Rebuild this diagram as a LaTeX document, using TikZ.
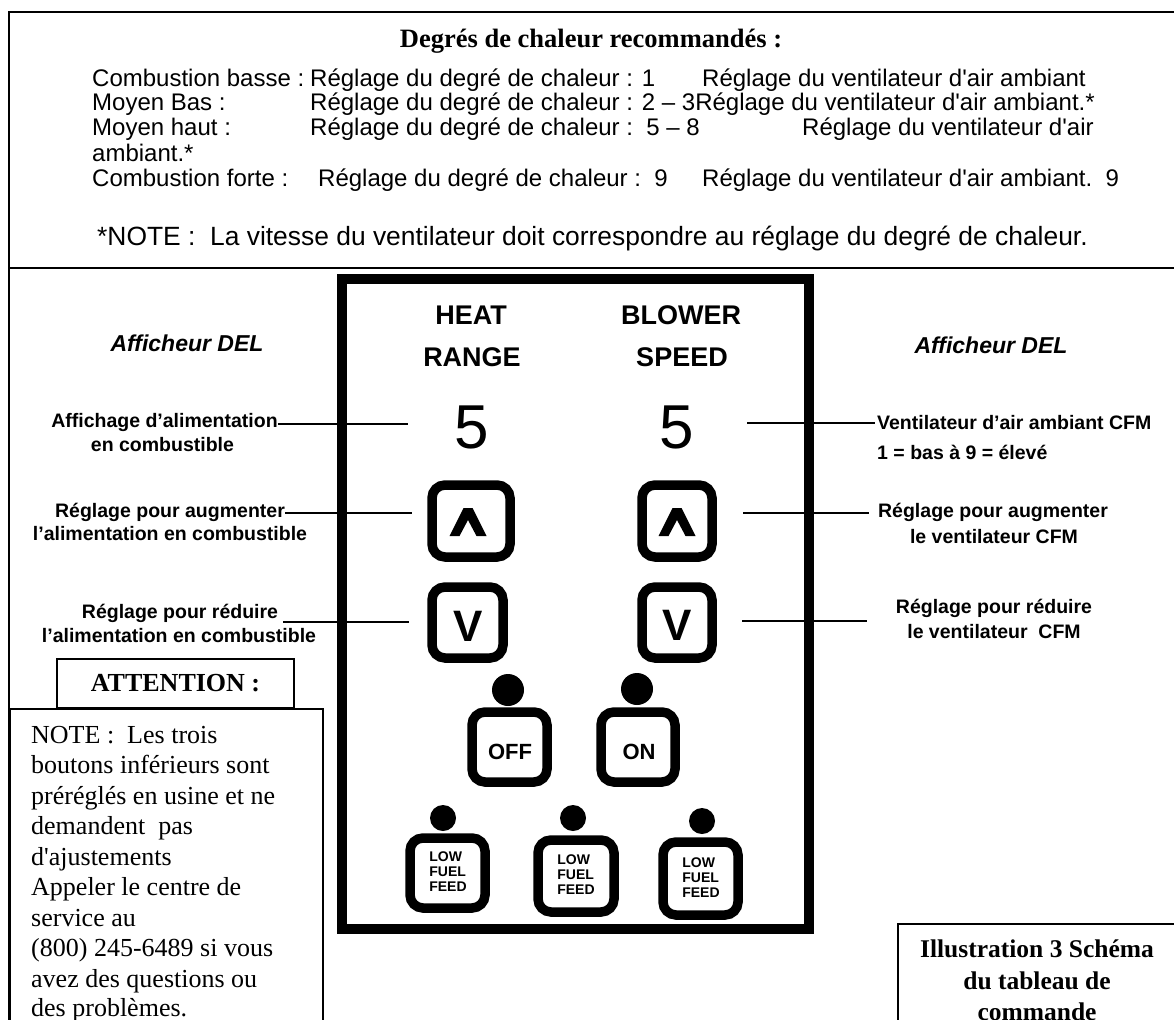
\documentclass[tikz,border=0pt]{standalone}
\usepackage{fontspec}
\usepackage{graphicx}
\setmainfont{Liberation Serif}
\newfontfamily\tms{Liberation Serif}
\newfontfamily\arial{Liberation Sans}
\begin{document}
\begin{tikzpicture}[x=1pt,y=-1pt,
  frameline/.style={line width=2pt},
  toptxt/.style={font=\arial\fontsize{24}{28}\selectfont, anchor=base west, inner sep=0},
  lbl/.style={font=\arial\bfseries\fontsize{19.5}{23}\selectfont, inner sep=0},
  deltxt/.style={font=\arial\bfseries\itshape\fontsize{23}{27}\selectfont, inner sep=0},
  leader/.style={line width=1.8pt},
  paneltxt/.style={font=\arial\bfseries\fontsize{27}{30}\selectfont, inner sep=0},
  digit/.style={font=\arial\fontsize{62}{70}\selectfont, inner sep=0},
  btn/.style={draw, line width=9.5pt, rounded corners=13pt, inner sep=0},
  glyph/.style={font=\arial\bfseries\fontsize{44}{50}\selectfont, inner sep=0},
  chev/.style={fill=black},
  btntxt/.style={font=\arial\bfseries\fontsize{22}{26}\selectfont, inner sep=0},
  lfftxt/.style={font=\arial\bfseries\fontsize{14}{15}\selectfont, align=left, inner sep=0},
  led/.style={circle, fill, inner sep=0},
  notetxt/.style={font=\tms\fontsize{26}{30}\selectfont, anchor=base west, inner sep=0},
  capt/.style={font=\tms\bfseries\fontsize{25.5}{30}\selectfont, anchor=base, inner sep=0},
  boxline/.style={line width=1.6pt},
]
\useasboundingbox (0,0) rectangle (1174,1019);
\fill[white] (0,0) rectangle (1174,1019);

% outer frame
\draw[frameline] (9,1030) -- (9,11.7) -- (1180,11.7);
\draw[line width=2.5pt] (9,268) -- (1180,268);

% top section
\node[font=\tms\bfseries\fontsize{26.5}{30}\selectfont, anchor=base, inner sep=0] (title) at (591,48) {Degrés de chaleur recommandés :};
\node[toptxt] (r1a) at (92,87) {Combustion basse :};
\node[toptxt] (r1b) at (310,87) {Réglage du degré de chaleur : 1};
\node[toptxt] (r1c) at (702,87) {Réglage du ventilateur d'air ambiant};
\node[toptxt] (r2a) at (92,111) {Moyen Bas :};
\node[toptxt] (r2b) at (310,111) {Réglage du degré de chaleur : 2 – 3Réglage du ventilateur d'air ambiant.*};
\node[toptxt] (r3a) at (92,136) {Moyen haut :};
\node[toptxt] (r3b) at (310,136) {Réglage du degré de chaleur :\ \ 5 – 8};
\node[toptxt] (r3c) at (802,136) {Réglage du ventilateur d'air};
\node[toptxt] (r4a) at (92,161) {ambiant.*};
\node[toptxt] (r5a) at (92,186) {Combustion forte :};
\node[toptxt] (r5b) at (318,186) {Réglage du degré de chaleur :\ \ 9};
\node[toptxt] (r5c) at (702,186) {Réglage du ventilateur d'air ambiant.\ \ 9};
\node[toptxt, font=\arial\fontsize{26.4}{30}\selectfont] (note) at (97,245) {*NOTE :\ \ La vitesse du ventilateur doit correspondre au réglage du degré de chaleur.};

% control panel
\node[draw, line width=10pt, minimum width=467pt, minimum height=650pt, inner sep=0] (panel) at (575.5,604) {};
\node[paneltxt] (heat) at (471,315) {HEAT};
\node[paneltxt] (range) at (472,357) {RANGE};
\node[paneltxt] (blower) at (681,315) {BLOWER};
\node[paneltxt] (speed) at (682,357) {SPEED};
\node[digit] (dL) at (472,427) {5};
\node[digit] (dR) at (677,427) {5};

\node[btn, minimum width=78pt, minimum height=72pt] (upL) at (471,521) {};
\node[btn, minimum width=70pt, minimum height=72pt] (upR) at (677,521) {};
\node[btn, minimum width=71pt, minimum height=71pt] (dnL) at (467.5,622.5) {};
\node[btn, minimum width=70pt, minimum height=71pt] (dnR) at (677,622.5) {};
\foreach \cx/\cy in {468/522, 677/522}
  \fill[chev] (\cx-18.5,\cy+14) -- (\cx-4.5,\cy-14) -- (\cx+4.5,\cy-14) -- (\cx+18.5,\cy+14)
    -- (\cx+8.5,\cy+14) -- (\cx,\cy-2) -- (\cx-8.5,\cy+14) -- cycle;
\node[glyph] (dnLg) at (468,626) {V};
\node[glyph] (dnRg) at (677,625) {V};

\node[led, minimum size=32pt] (ledOff) at (508,690) {};
\node[led, minimum size=32pt] (ledOn) at (637,689) {};
\node[btn, minimum width=75pt, minimum height=70pt] (off) at (509.5,747) {};
\node[btn, minimum width=74pt, minimum height=70pt] (on) at (638,747) {};
\node[btntxt] (offt) at (510,752) {OFF};
\node[btntxt] (ont) at (639,752) {ON};

\node[led, minimum size=26pt] (led1) at (443,818) {};
\node[led, minimum size=26pt] (led2) at (573,818) {};
\node[led, minimum size=26pt] (led3) at (702,821) {};
\node[btn, minimum width=75pt, minimum height=70pt] (lf1) at (447.5,873) {};
\node[btn, minimum width=76pt, minimum height=72pt] (lf2) at (576,876) {};
\node[btn, minimum width=75pt, minimum height=73pt] (lf3) at (700.5,878.5) {};
\node[lfftxt] (lf1t) at (448,872) {LOW\\FUEL\\FEED};
\node[lfftxt] (lf2t) at (576,875) {LOW\\FUEL\\FEED};
\node[lfftxt] (lf3t) at (701,878) {LOW\\FUEL\\FEED};

% left labels
\node[deltxt] (delL) at (187,343) {Afficheur DEL};
\node[lbl] (affA) at (164.5,422) {Affichage d’alimentation};
\node[lbl] (affB) at (162.5,445) {en combustible};
\node[lbl] (augLA) at (170,512) {Réglage pour augmenter};
\node[lbl] (augLB) at (170,534) {l’alimentation en combustible};
\node[lbl] (redLA) at (180,613) {Réglage pour réduire};
\node[lbl] (redLB) at (179,636) {l’alimentation en combustible};

% right labels
\node[deltxt] (delR) at (991,345) {Afficheur DEL};
\node[lbl, anchor=west] (ventA) at (877,423) {Ventilateur d’air ambiant CFM};
\node[lbl, anchor=west] (ventB) at (877,452) {1 = bas à 9 = élevé};
\node[lbl] (augRA) at (993,512) {Réglage pour augmenter};
\node[lbl] (augRB) at (994,537) {le ventilateur CFM};
\node[lbl] (redRA) at (994,608) {Réglage pour réduire};
\node[lbl] (redRB) at (994,632) {le ventilateur\ \ CFM};

% leader lines
\coordinate (cL1) at (408,424);
\coordinate (cL2) at (412,513);
\coordinate (cL3) at (409,622);
\coordinate (cR1) at (747,423);
\coordinate (cR2) at (743,513);
\coordinate (cR3) at (742,621);
\coordinate (eR3) at (867,621);
\draw[leader] (affA.east |- cL1) -- (cL1);
\draw[leader] (augLA.east |- cL2) -- (cL2);
\draw[leader] (redLA.east |- cL3) ++(5,0) -- (cL3);
\draw[leader, shorten >=2pt] (cR1) -- (cR1 -| ventA.west);
\draw[leader, shorten >=9pt] (cR2) -- (cR2 -| augRA.west);
\draw[leader] (cR3) -- (eR3);

% ATTENTION and NOTE boxes
\node[draw, boxline, fill=white, minimum width=237pt, minimum height=49pt, inner sep=0, font=\tms\bfseries\fontsize{26}{30}\selectfont] (att) at (175.5,683.5) {ATTENTION :};
\node[draw, boxline, anchor=north west, minimum width=313pt, minimum height=340pt, inner sep=0] (notebox) at (9,708) {};
\node[notetxt] (n1) at (31,743) {NOTE :\ \ Les trois};
\node[notetxt] (n2) at (31,773.5) {boutons inférieurs sont};
\node[notetxt] (n3) at (31,804) {préréglés en usine et ne};
\node[notetxt] (n4) at (31,834.5) {demandent\ \ pas};
\node[notetxt] (n5) at (31,865) {d'ajustements};
\node[notetxt] (n6) at (31,895.5) {Appeler le centre de};
\node[notetxt] (n7) at (31,926) {service au};
\node[notetxt] (n8) at (31,956.5) {(800) 245-6489 si vous};
\node[notetxt] (n9) at (31,987) {avez des questions ou};
\node[notetxt] (n10) at (31,1016.5) {des problèmes.};

% caption box
\node[draw, line width=1.5pt, anchor=north west, minimum width=320pt, minimum height=150pt, inner sep=0] (captbox) at (897,923) {};
\node[capt] (c1) at (1037,957) {Illustration 3 Schéma};
\node[capt] (c2) at (1037,989) {du tableau de};
\node[capt] (c3) at (1037,1020) {commande};
\end{tikzpicture}
\end{document}
